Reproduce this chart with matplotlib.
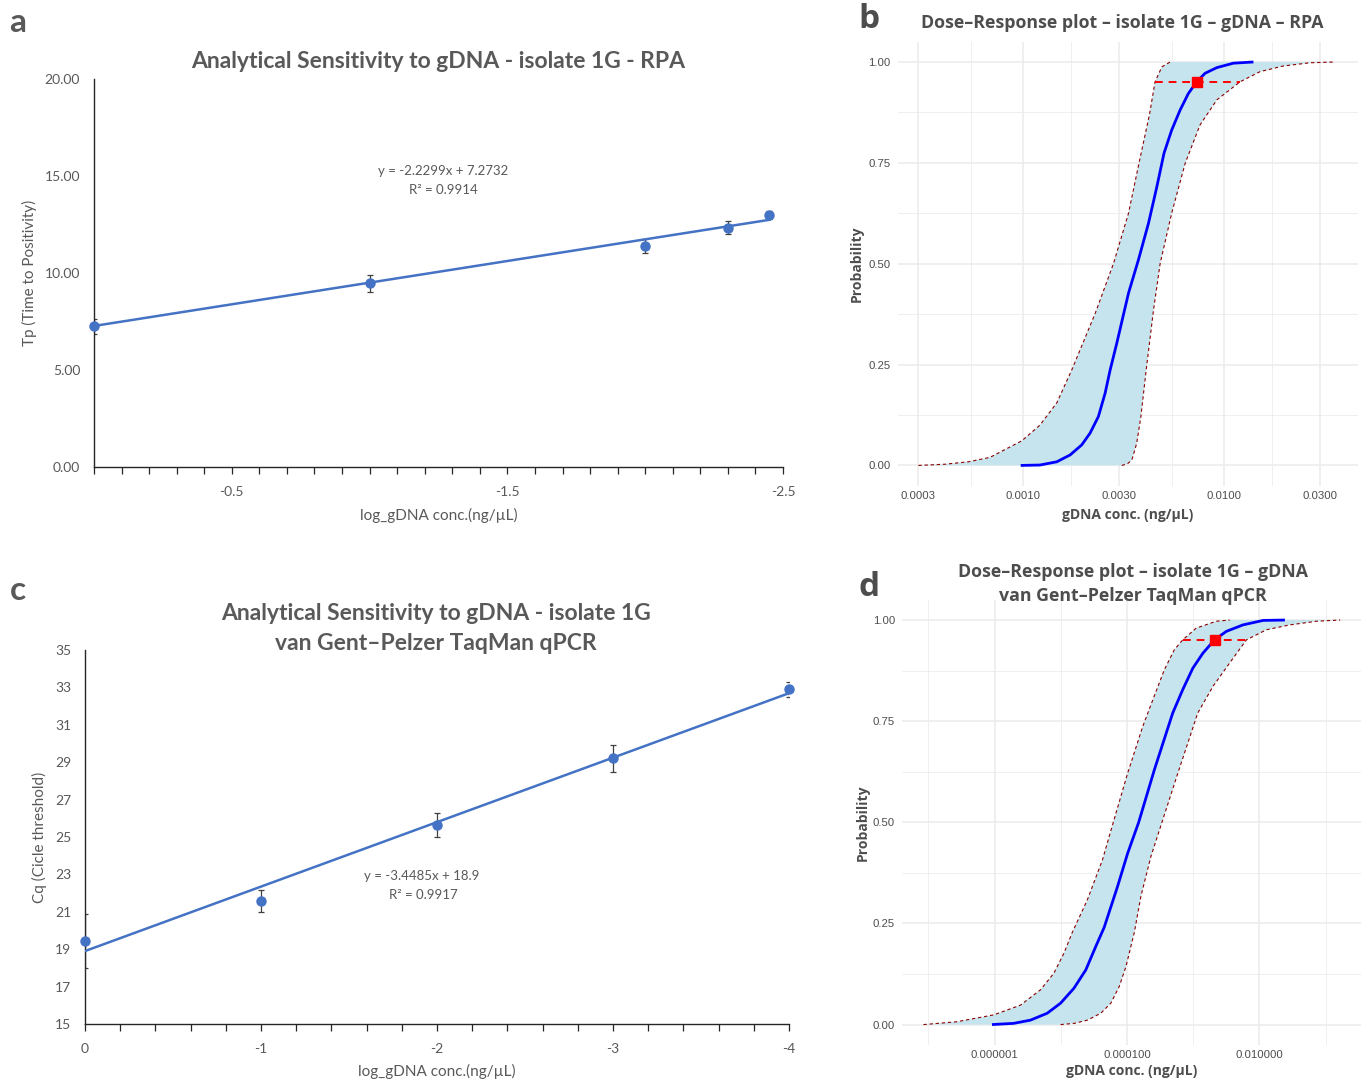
import matplotlib
matplotlib.use("Agg")
import matplotlib.pyplot as plt
from matplotlib.ticker import NullFormatter

# ---- panel a : RPA standard curve ----
a_logconc = [0.0, -1.0, -2.0, -2.3, -2.45]
a_tp = [7.25, 9.47, 11.41, 12.34, 12.99]
a_err = [0.40, 0.43, 0.36, 0.35, 0.22]
a_trend_x = [0.0, -2.45]
a_trend_y = [7.27, 12.74]
a_yticks = [0, 5, 10, 15, 20]
a_ylabels = ["0.00", "5.00", "10.00", "15.00", "20.00"]
a_xticks = [-0.5, -1.5, -2.5]
a_xlabels = ["-0.5", "-1.5", "-2.5"]

# ---- panel c : qPCR standard curve ----
c_logconc = [0, -1, -2, -3, -4]
c_cq = [19.45, 21.58, 25.64, 29.20, 32.90]
c_err = [1.45, 0.60, 0.65, 0.70, 0.40]
c_trend_x = [0, -4]
c_trend_y = [18.90, 32.69]
c_yticks = [15, 17, 19, 21, 23, 25, 27, 29, 31, 33, 35]
c_xticks = [0, -1, -2, -3, -4]
c_xlabels = ["0", "-1", "-2", "-3", "-4"]

# ---- panel b : dose-response RPA ----
b_med_conc = [0.00097, 0.00121, 0.001467, 0.00171, 0.001954, 0.002149, 0.002364, 0.002554,
              0.002704, 0.00292, 0.00334, 0.00374, 0.0042, 0.00462, 0.00502, 0.00548,
              0.00604, 0.00664, 0.00731, 0.00804, 0.0092, 0.01112, 0.0140]
b_med_p = [0.0, 0.001, 0.009, 0.026, 0.051, 0.080, 0.121, 0.179,
           0.236, 0.303, 0.427, 0.509, 0.600, 0.690, 0.774, 0.831,
           0.881, 0.922, 0.951, 0.972, 0.986, 0.997, 1.0]
b_hi_conc = [0.0003, 0.000407, 0.000532, 0.000682, 0.000982, 0.00121, 0.001467, 0.00174,
             0.00228, 0.00281, 0.00334, 0.00377, 0.00425, 0.00453, 0.0049, 0.00539]
b_hi_p = [0.0, 0.003, 0.009, 0.020, 0.061, 0.100, 0.155, 0.236,
          0.377, 0.50, 0.625, 0.75, 0.87, 0.951, 0.988, 1.0]
b_lo_conc = [0.00309, 0.0033, 0.00347, 0.00367, 0.00385, 0.00409, 0.00445, 0.0048, 0.00548,
             0.0064, 0.00759, 0.0092, 0.01202, 0.0151, 0.0197, 0.0268, 0.0357]
b_lo_p = [0.0, 0.004, 0.013, 0.055, 0.121, 0.236, 0.385, 0.50, 0.625,
          0.749, 0.844, 0.906, 0.951, 0.976, 0.990, 0.998, 1.0]
b_lod = (0.00731, 0.95)
b_lod_ci = [0.00453, 0.01202]
b_xmajor = [0.0003, 0.001, 0.003, 0.01, 0.03]
b_xlabels = ["0.0003", "0.0010", "0.0030", "0.0100", "0.0300"]
b_xminor = [0.000548, 0.00173, 0.00548, 0.0173]
b_xlim = (0.000236, 0.0462)

# ---- panel d : dose-response qPCR ----
d_med_conc = [9.1e-7, 1.94e-6, 3.48e-6, 6.22e-6, 9.93e-6, 1.58e-5, 2.38e-5, 3.37e-5,
              4.51e-5, 7.18e-5, 1.02e-4, 1.5e-4, 2.59e-4, 4.9e-4, 6.95e-4, 9.87e-4, 1.4e-3,
              2.1e-3, 3.17e-3, 5.66e-3, 1.138e-2, 0.0243]
d_med_p = [0.0, 0.003, 0.011, 0.028, 0.053, 0.090, 0.135, 0.193,
           0.240, 0.341, 0.423, 0.50, 0.630, 0.770, 0.828, 0.881, 0.918,
           0.951, 0.972, 0.988, 0.999, 1.0]
d_hi_conc = [8.4e-8, 2.68e-7, 9.7e-7, 2.45e-6, 4.93e-6, 7.85e-6, 1.11e-5, 1.49e-5,
             2.51e-5, 4.25e-5, 6.2e-5, 1.02e-4, 1.72e-4, 2.17e-4, 3.66e-4, 5.2e-4,
             6.95e-4, 1.11e-3, 2.23e-3, 3.56e-3]
d_hi_p = [0.0, 0.007, 0.024, 0.048, 0.086, 0.127, 0.176, 0.228,
          0.308, 0.407, 0.50, 0.621, 0.736, 0.780, 0.877, 0.927,
          0.951, 0.980, 0.997, 1.0]
d_lo_conc = [9.9e-6, 1.6e-5, 2.52e-5, 4.02e-5, 5.7e-5, 7.62e-5, 9.62e-5, 1.29e-4, 1.62e-4,
             2.3e-4, 3.37e-4, 5.85e-4, 1.17e-3, 1.99e-3, 3.56e-3, 6.37e-3, 0.0128,
             0.0289, 0.0734, 0.166]
d_lo_p = [0.0, 0.003, 0.011, 0.028, 0.053, 0.094, 0.143, 0.228, 0.317,
          0.416, 0.50, 0.621, 0.770, 0.836, 0.894, 0.951, 0.976,
          0.988, 0.997, 1.0]
d_lod = (2.1e-3, 0.951)
d_lod_ci = [6.95e-4, 6.37e-3]
d_xmajor = [1e-6, 1e-4, 1e-2]
d_xlabels = ["0.000001", "0.000100", "0.010000"]
d_xminor = [1e-7, 1e-5, 1e-3, 1e-1]
d_xlim = (3.98e-8, 0.343)

prob_major = [0.0, 0.25, 0.5, 0.75, 1.0]
prob_labels = ["0.00", "0.25", "0.50", "0.75", "1.00"]
prob_minor = [0.125, 0.375, 0.625, 0.875]

W, H = 1368, 1082
XL_GREY = "#595959"
GG_GREY = "#4D4D4D"
XL_BLUE = "#4472C4"


def px_axes(fig, left, top, right, bottom):
    return fig.add_axes([left / W, 1 - bottom / H, (right - left) / W, (bottom - top) / H])


def ftext(fig, x, y, s, **kw):
    fig.text(x / W, 1 - y / H, s, ha="center", va="center", **kw)


def excel_panel(ax, x, y, err, tx, ty):
    ax.errorbar(x, y, yerr=err, fmt="none", ecolor="#404040", elinewidth=0.9,
                capsize=2.5, capthick=0.9, zorder=2)
    ax.plot(tx, ty, color=XL_BLUE, lw=1.8, zorder=3)
    ax.plot(x, y, "o", color=XL_BLUE, ms=6.5, zorder=4, clip_on=False)
    for s in ["top", "right"]:
        ax.spines[s].set_visible(False)
    for s in ["left", "bottom"]:
        ax.spines[s].set_color("#262626")
        ax.spines[s].set_linewidth(1.0)
    ax.tick_params(axis="y", length=0, pad=10, labelsize=10, labelcolor=XL_GREY)
    ax.tick_params(axis="x", which="both", direction="out", length=5, width=0.9,
                   color="#262626", pad=9, labelsize=10, labelcolor=XL_GREY)


def gg_panel(ax, med_c, med_p, hi_c, hi_p, lo_c, lo_p, lod, ci, xmaj, xlab, xmin, xlim):
    ax.set_xscale("log")
    band_x = list(hi_c) + list(lo_c)[::-1]
    band_y = list(hi_p) + list(lo_p)[::-1]
    ax.fill(band_x, band_y, color="#c6e4ed", lw=0, zorder=1)
    ax.plot(hi_c, hi_p, color="#8B0000", lw=0.8, ls=(0, (3, 2.5)), zorder=2)
    ax.plot(lo_c, lo_p, color="#8B0000", lw=0.8, ls=(0, (3, 2.5)), zorder=2)
    ax.plot(med_c, med_p, color="#0000FF", lw=2.0, zorder=3, solid_capstyle="butt",
            solid_joinstyle="round")
    ax.plot(ci, [lod[1], lod[1]], color="#FF0000", lw=1.4, ls=(0, (4, 3)), zorder=4)
    ax.plot([lod[0]], [lod[1]], "s", color="#FF0000", ms=7.5, zorder=5)
    ax.set_xlim(*xlim)
    ax.set_ylim(-0.05, 1.05)
    ax.set_xticks(xmaj, labels=xlab, family="Liberation Sans")
    ax.set_xticks(xmin, minor=True)
    ax.xaxis.set_minor_formatter(NullFormatter())
    ax.set_yticks(prob_major, labels=prob_labels, family="Liberation Sans")
    ax.set_yticks(prob_minor, minor=True)
    for s in ax.spines.values():
        s.set_visible(False)
    ax.tick_params(which="both", length=0, labelsize=8.2, labelcolor=GG_GREY)
    ax.tick_params(axis="y", pad=5)
    ax.tick_params(axis="x", pad=4)
    ax.grid(which="major", color="#EBEBEB", lw=1.1)
    ax.grid(which="minor", color="#EBEBEB", lw=0.55)
    ax.set_axisbelow(True)
    ax.set_ylabel("Probability", fontsize=10, fontweight="bold", color=GG_GREY,
                  family="Open Sans", va="center")
    ax.set_xlabel("gDNA conc. (ng/µL)", fontsize=10, fontweight="bold", color=GG_GREY,
                  family="Open Sans", va="center")


fig = plt.figure(figsize=(W / 100, H / 100), dpi=100)

# ---- a ----
ax_a = px_axes(fig, 94, 79, 783, 467)
excel_panel(ax_a, a_logconc, a_tp, a_err, a_trend_x, a_trend_y)
ax_a.set_xlim(0, -2.5)
ax_a.set_ylim(0, 20)
ax_a.set_yticks(a_yticks, labels=a_ylabels, family="Lato")
ax_a.set_xticks(a_xticks, labels=a_xlabels, family="Lato")
ax_a.set_xticks([-0.1 * i for i in range(26)], minor=True)
ax_a.set_xlabel("log_gDNA conc.(ng/µL)", fontsize=11, color=XL_GREY, family="Lato", va="center")
ax_a.xaxis.set_label_coords(0.5, -0.126)
ax_a.set_ylabel("Tp (Time to Positivity)", fontsize=11, color=XL_GREY, family="Lato", va="center")
ax_a.yaxis.set_label_coords(-0.093, 0.5)
ftext(fig, 438, 61, "Analytical Sensitivity to gDNA - isolate 1G - RPA",
      fontsize=16.5, fontweight="bold", color=XL_GREY, family="Lato")
ftext(fig, 443, 171, "y = -2.2299x + 7.2732", fontsize=9.5, color=XL_GREY, family="Lato")
ftext(fig, 443, 190, "R² = 0.9914", fontsize=9.5, color=XL_GREY, family="Lato")

# ---- c ----
ax_c = px_axes(fig, 85, 650, 789, 1024)
excel_panel(ax_c, c_logconc, c_cq, c_err, c_trend_x, c_trend_y)
ax_c.set_xlim(0, -4)
ax_c.set_ylim(15, 35)
ax_c.set_yticks(c_yticks, labels=[str(v) for v in c_yticks], family="Lato")
ax_c.set_xticks(c_xticks, labels=c_xlabels, family="Lato")
ax_c.set_xticks([-0.2 * i for i in range(21)], minor=True)
ax_c.set_xlabel("log_gDNA conc.(ng/µL)", fontsize=11, color=XL_GREY, family="Lato", va="center")
ax_c.xaxis.set_label_coords(0.5, -0.126)
ax_c.set_ylabel("Cq (Cicle threshold)", fontsize=11, color=XL_GREY, family="Lato", va="center")
ax_c.yaxis.set_label_coords(-0.064, 0.5)
ftext(fig, 436, 613, "Analytical Sensitivity to gDNA - isolate 1G",
      fontsize=16.5, fontweight="bold", color=XL_GREY, family="Lato")
ftext(fig, 436, 644, "van Gent–Pelzer TaqMan qPCR",
      fontsize=16.5, fontweight="bold", color=XL_GREY, family="Lato")
ftext(fig, 422, 876, "y = -3.4485x + 18.9", fontsize=9.5, color=XL_GREY, family="Lato")
ftext(fig, 423, 895, "R² = 0.9917", fontsize=9.5, color=XL_GREY, family="Lato")

# ---- b ----
ax_b = px_axes(fig, 897.5, 41.8, 1357.5, 485.6)
gg_panel(ax_b, b_med_conc, b_med_p, b_hi_conc, b_hi_p, b_lo_conc, b_lo_p,
         b_lod, b_lod_ci, b_xmajor, b_xlabels, b_xminor, b_xlim)
ax_b.xaxis.set_label_coords(0.5, -0.066)
ax_b.yaxis.set_label_coords(-0.088, 0.5)
ftext(fig, 1122, 23, "Dose–Response plot – isolate 1G – gDNA – RPA",
      fontsize=12.8, fontweight="bold", color=GG_GREY, family="Open Sans")

# ---- d ----
ax_d = px_axes(fig, 902, 599.8, 1361, 1044.8)
gg_panel(ax_d, d_med_conc, d_med_p, d_hi_conc, d_hi_p, d_lo_conc, d_lo_p,
         d_lod, d_lod_ci, d_xmajor, d_xlabels, d_xminor, d_xlim)
ax_d.xaxis.set_label_coords(0.5, -0.059)
ax_d.yaxis.set_label_coords(-0.085, 0.5)
ftext(fig, 1133, 572, "Dose–Response plot – isolate 1G – gDNA",
      fontsize=12.8, fontweight="bold", color=GG_GREY, family="Open Sans")
ftext(fig, 1133, 596, "van Gent–Pelzer TaqMan qPCR",
      fontsize=12.8, fontweight="bold", color=GG_GREY, family="Open Sans")

# panel letters
ftext(fig, 18, 22, "a", fontsize=24, fontweight="bold", color=XL_GREY, family="Lato")
ftext(fig, 18, 590, "c", fontsize=24, fontweight="bold", color=XL_GREY, family="Lato")
ftext(fig, 869, 20, "b", fontsize=24, fontweight="bold", color=GG_GREY, family="Open Sans")
ftext(fig, 869, 588, "d", fontsize=24, fontweight="bold", color=GG_GREY, family="Open Sans")

fig.savefig("out.png", dpi=100)
